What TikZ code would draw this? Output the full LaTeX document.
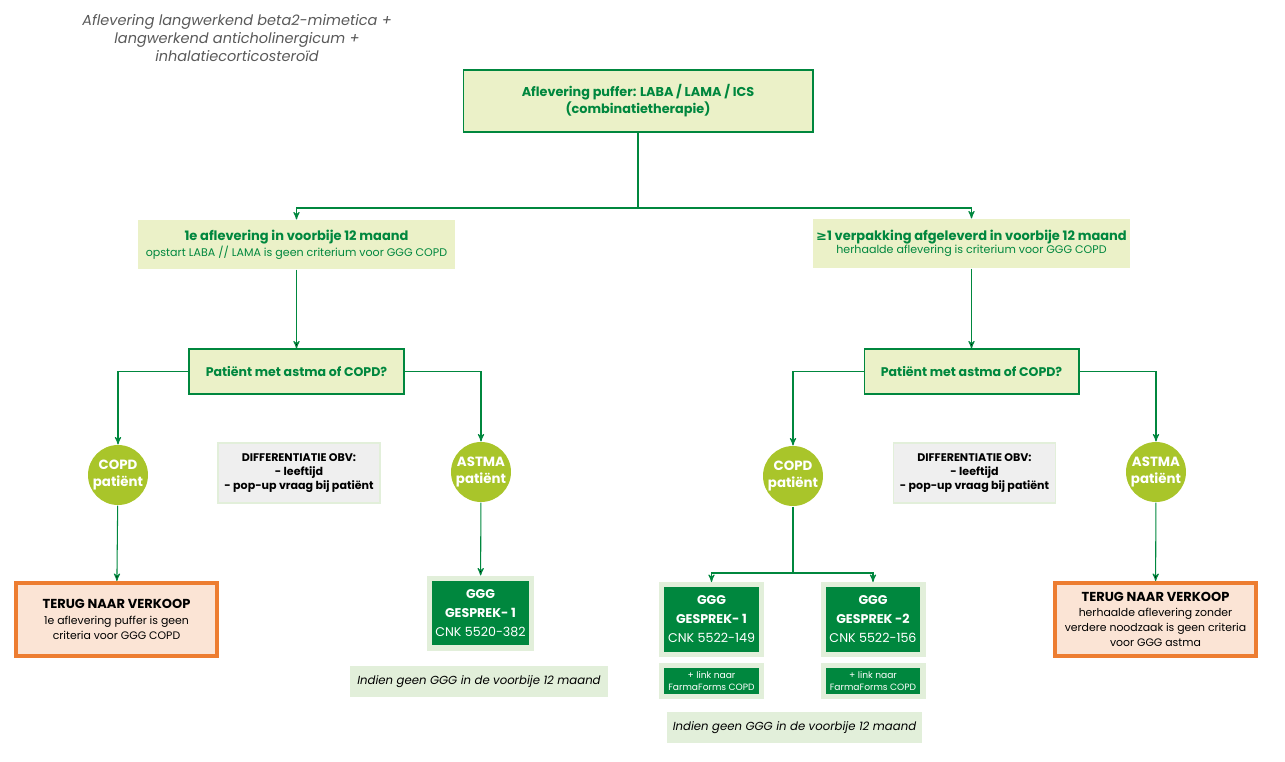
\documentclass[tikz,border=0pt]{standalone}
\usepackage{fontspec}
\setmainfont{Poppins}
\newfontfamily\symfont{DejaVu Sans}
\usetikzlibrary{arrows}

\definecolor{ggreen}{RGB}{0,135,62}
\definecolor{lgreen}{RGB}{235,241,200}
\definecolor{lime}{RGB}{169,197,42}
\definecolor{pale}{RGB}{226,239,218}
\definecolor{borange}{RGB}{237,125,49}
\definecolor{peach}{RGB}{251,228,213}
\definecolor{greybox}{RGB}{239,239,239}
\definecolor{headgrey}{RGB}{89,89,89}

\begin{document}
\begin{tikzpicture}[>=stealth',x=0.02cm,y=-0.02cm,line width=0.6pt,
    topbox/.style={draw=ggreen,fill=lgreen,minimum width=7cm,minimum height=1.24cm,
        align=center,text=ggreen,font=\bfseries\fontsize{7.3}{9.7}\selectfont},
    levelbox/.style={fill=lgreen,minimum width=6.34cm,minimum height=0.98cm,inner xsep=2pt,
        align=center,text=ggreen,font=\fontsize{6.3}{7.6}\selectfont},
    question/.style={draw=ggreen,fill=lgreen,minimum width=4.3cm,minimum height=0.9cm,
        text=ggreen,font=\bfseries\fontsize{7.15}{9}\selectfont},
    patient/.style={circle,fill=lime,minimum size=1.2cm,inner sep=0pt,align=center,
        text=white,font=\bfseries\fontsize{7.6}{10.2}\selectfont},
    diffbox/.style={draw=pale,fill=greybox,minimum width=3.24cm,minimum height=1.2cm,
        align=center,font=\bfseries\fontsize{6.3}{8}\selectfont},
    terug/.style={draw=borange,line width=2.3pt,fill=peach,minimum width=4.02cm,
        minimum height=1.46cm,align=center,font=\fontsize{6.2}{8.6}\selectfont},
    ggg/.style={draw=pale,line width=2.85pt,fill=ggreen,minimum width=2cm,
        minimum height=1.4cm,align=center,text=white,font=\fontsize{7.2}{10.8}\selectfont},
    linkbox/.style={draw=pale,line width=2.85pt,fill=ggreen,minimum width=2cm,
        minimum height=0.58cm,align=center,text=white,font=\fontsize{5.2}{6.6}\selectfont},
    note/.style={fill=pale,minimum height=0.62cm,font=\itshape\fontsize{6.65}{8}\selectfont},
    flow/.style={->,draw=ggreen}]

    \useasboundingbox (0,0) rectangle (1285,761);

    \node[align=center,text=headgrey,font=\itshape\fontsize{8.25}{10.5}\selectfont] (head) at (237,38)
        {Aflevering langwerkend beta2-mimetica +\\langwerkend anticholinergicum +\\inhalatiecorticosteroïd};

    \node[topbox]   (top)    at (638,101)   {Aflevering puffer: LABA / LAMA / ICS\\(combinatietherapie)};
    \coordinate     (split)  at (638,208);

    \node[levelbox] (first)  at (296.5,244.5)
        {{\bfseries\fontsize{7.4}{9}\selectfont 1e aflevering in voorbije 12 maand}\\opstart LABA // LAMA is geen criterium voor GGG COPD};
    \node[levelbox] (repeat) at (971.5,243.5)
        {{\bfseries\fontsize{7.4}{9}\selectfont{\symfont≥}1 verpakking afgeleverd in voorbije 12 maand}\\herhaalde aflevering is criterium voor GGG COPD};

    \node[question] (lq)     at (296.5,371.5) {Patiënt met astma of COPD?};
    \node[question] (rq)     at (971.5,371.5) {Patiënt met astma of COPD?};

    \node[patient]  (lcopd)  at (118,475)  {COPD\\patiënt};
    \node[patient]  (lastma) at (481,472)  {ASTMA\\patiënt};
    \node[patient]  (rcopd)  at (793,476)  {COPD\\patiënt};
    \node[patient]  (rastma) at (1156,472) {ASTMA\\patiënt};

    \node[diffbox]  (ldiff)  at (299,473)   {DIFFERENTIATIE OBV:\\- leeftijd\\- pop-up vraag bij patiënt};
    \node[diffbox]  (rdiff)  at (974.5,473) {DIFFERENTIATIE OBV:\\- leeftijd\\- pop-up vraag bij patiënt};

    \node[terug]    (lterug) at (116.5,619.5)
        {{\bfseries\fontsize{7.4}{9}\selectfont TERUG NAAR VERKOOP}\\1e aflevering puffer is geen\\criteria voor GGG COPD};
    \node[terug]    (rterug) at (1155.5,619.5)
        {{\bfseries\fontsize{7.4}{9}\selectfont TERUG NAAR VERKOOP}\\herhaalde aflevering zonder\\verdere noodzaak is geen criteria\\voor GGG astma};

    \node[ggg]      (lggg)   at (480.5,613)   {\bfseries GGG\\\bfseries GESPREK- 1\\CNK 5520-382};
    \coordinate     (rsplit) at (793,573);
    \node[ggg]      (rggg1)  at (711.5,619.5) {\bfseries GGG\\\bfseries GESPREK- 1\\CNK 5522-149};
    \node[ggg]      (rggg2)  at (873,619.5)   {\bfseries GGG\\\bfseries GESPREK -2\\CNK 5522-156};
    \node[linkbox]  (link1)  at (711.5,681)   {+ link naar\\FarmaForms COPD};
    \node[linkbox]  (link2)  at (873,681)     {+ link naar\\FarmaForms COPD};

    \node[note,minimum width=5.16cm] (lnote) at (479,681.5)   {Indien geen GGG in de voorbije 12 maand};
    \node[note,minimum width=5.06cm] (rnote) at (794.5,727.5) {Indien geen GGG in de voorbije 12 maand};

    \draw[ggreen] (top.south) -- (split);
    \draw[flow] (split) -| (first.north);
    \draw[flow] (split) -| (repeat.north);
    \path[flow] (first)  edge (lq)
                (repeat) edge (rq)
                (lcopd)  edge (lterug)
                (lastma) edge (lggg)
                (rastma) edge (rterug);
    \draw[flow] (lq.west) -| (lcopd.north);
    \draw[flow] (lq.east) -| (lastma.north);
    \draw[flow] (rq.west) -| (rcopd.north);
    \draw[flow] (rq.east) -| (rastma.north);
    \draw[ggreen] (rcopd.south) -- (rsplit);
    \draw[flow] (rsplit) -| (rggg1.north);
    \draw[flow] (rsplit) -| (rggg2.north);

\end{tikzpicture}
\end{document}
